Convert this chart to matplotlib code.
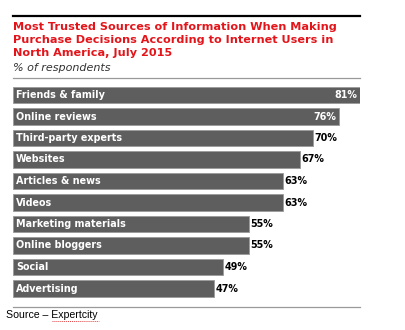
import matplotlib.pyplot as plt
from matplotlib.lines import Line2D

sources = ['Friends & family', 'Online reviews', 'Third-party experts', 'Websites',
           'Articles & news', 'Videos', 'Marketing materials', 'Online bloggers',
           'Social', 'Advertising']
shares = [81, 76, 70, 67, 63, 63, 55, 55, 49, 47]

W, H = 406, 330
fig = plt.figure(figsize=(W / 100, H / 100), dpi=100)
fig.patch.set_facecolor('white')


def px(x, y):
    return x / W, 1 - y / H


# axes spans bar area: x 13..360 px for 0..81 %
left, right = 13, 360
top, bottom = 84.25, 299.25
ax = fig.add_axes([left / W, 1 - bottom / H, (right - left) / W, (bottom - top) / H])
ax.set_xlim(0, max(shares))
ax.set_ylim(len(sources) - 0.5, -0.5)
ax.axis('off')

bar_color = '#5e5e5e'
ax.barh(range(len(sources)), shares, height=0.745, color=bar_color,
        edgecolor='#9a9a9a', linewidth=0.6)

for i, (name, v) in enumerate(zip(sources, shares)):
    ax.text(0.7, i, name, color='white', fontsize=6.9, fontweight='bold',
            va='center', ha='left')
    if v >= 75:
        ax.text(v - 0.6, i, f'{v}%', color='white', fontsize=6.9,
                fontweight='bold', va='center', ha='right')
    else:
        ax.text(v + 0.4, i, f'{v}%', color='black', fontsize=6.9,
                fontweight='bold', va='center', ha='left')

# header rules
fig.add_artist(Line2D([left / W, right / W], [1 - 16 / H] * 2, color='black', lw=1.6))
fig.add_artist(Line2D([left / W, right / W], [1 - 78 / H] * 2, color='#9a9a9a', lw=0.9))
fig.add_artist(Line2D([left / W, right / W], [1 - 307 / H] * 2, color='#9a9a9a', lw=0.9))

title_lines = ['Most Trusted Sources of Information When Making',
               'Purchase Decisions According to Internet Users in',
               'North America, July 2015']
for k, line in enumerate(title_lines):
    fig.text(*px(13, 26.5 + k * 13.5), line, color='#e3151b', fontsize=8.1,
             fontweight='bold', va='center', ha='left')

fig.text(*px(13, 68), '% of respondents', color='#333333', fontsize=8.0,
         style='italic', va='center', ha='left')

src = fig.text(*px(6, 315), 'Source \u2013 Expertcity', color='black', fontsize=7.6,
               family='Liberation Sans', va='center', ha='left')
# spell-check squiggle under the source name
fig.add_artist(Line2D([52 / W, 99 / W], [1 - 321 / H] * 2, color='#e04040',
                      lw=0.7, ls=(0, (1, 1))))

fig.savefig('out.png', dpi=100, facecolor='white')
